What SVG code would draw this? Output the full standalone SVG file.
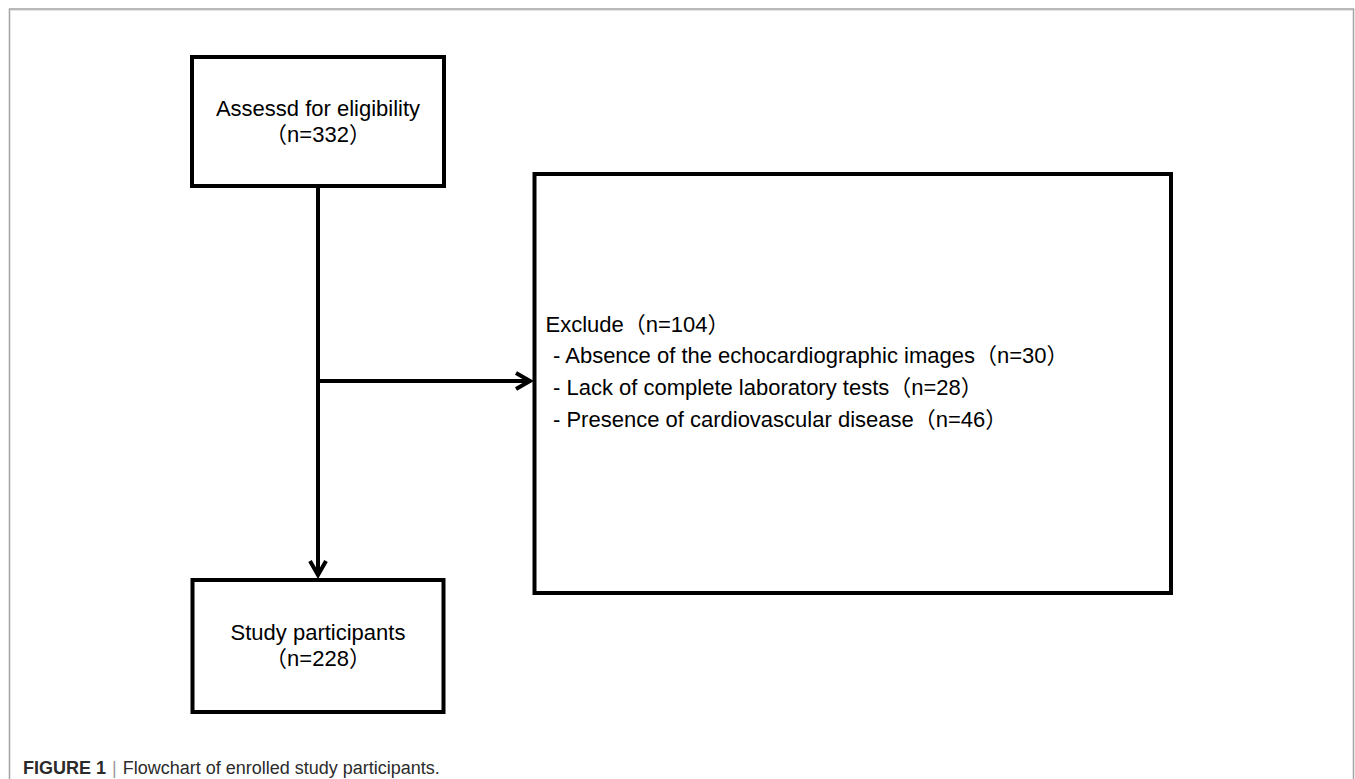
<svg xmlns="http://www.w3.org/2000/svg" width="1355" height="779" viewBox="0 0 1355 779">
<defs>
<style>
.box{fill:#ffffff;stroke:#000000;stroke-width:4}
.t{font-family:"Liberation Sans","Noto Sans CJK SC",Arial,sans-serif;font-size:22px;fill:#000000}
.c{text-anchor:middle}
.line{fill:none;stroke:#000000;stroke-width:4}
.cap{font-family:"Liberation Sans","Noto Sans",Arial,sans-serif;font-size:18px;fill:#2b2b2b}
</style>
<marker id="arr" viewBox="-18 -11 22 22" refX="0" refY="0" markerWidth="22" markerHeight="22" markerUnits="userSpaceOnUse" orient="auto">
<path d="M-14,-8 L0,0 L-14,8" fill="none" stroke="#000000" stroke-width="4"/>
</marker>
</defs>
<rect x="0" y="0" width="1355" height="779" fill="#ffffff"/>
<path d="M9.5,779 V9 H1353.5 V779" fill="none" stroke="#a3a3a3" stroke-width="1.5"/>
<line x1="10" y1="10.5" x2="1353" y2="10.5" stroke="#e4e4e4" stroke-width="1"/>

<g id="connectors">
<line class="line" x1="318" y1="188" x2="318" y2="575" marker-end="url(#arr)"/>
<line class="line" x1="318" y1="381" x2="530" y2="381" marker-end="url(#arr)"/>
</g>

<g id="node-assessed">
<rect class="box" x="192" y="57" width="252" height="129"/>
<text class="t c" x="318" y="116">Assessd for eligibility</text>
<text class="t c" x="318" y="142">（n=332）</text>
</g>

<g id="node-exclude">
<rect class="box" x="534.5" y="174" width="636.5" height="419"/>
<text class="t" x="545.5" y="332">Exclude（n=104）</text>
<text class="t" x="553" y="363">- Absence of the echocardiographic images（n=30）</text>
<text class="t" x="553" y="395">- Lack of complete laboratory tests（n=28）</text>
<text class="t" x="553" y="427">- Presence of cardiovascular disease（n=46）</text>
</g>

<g id="node-study">
<rect class="box" x="192.5" y="580" width="251" height="132"/>
<text class="t c" x="318" y="640">Study participants</text>
<text class="t c" x="318" y="666">（n=228）</text>
</g>

<g id="caption">
<text class="cap" x="23" y="774"><tspan font-weight="bold">FIGURE 1</tspan><tspan fill="#9a9a9a" dx="6">|</tspan><tspan dx="6">Flowchart of enrolled study participants.</tspan></text>
</g>
</svg>
